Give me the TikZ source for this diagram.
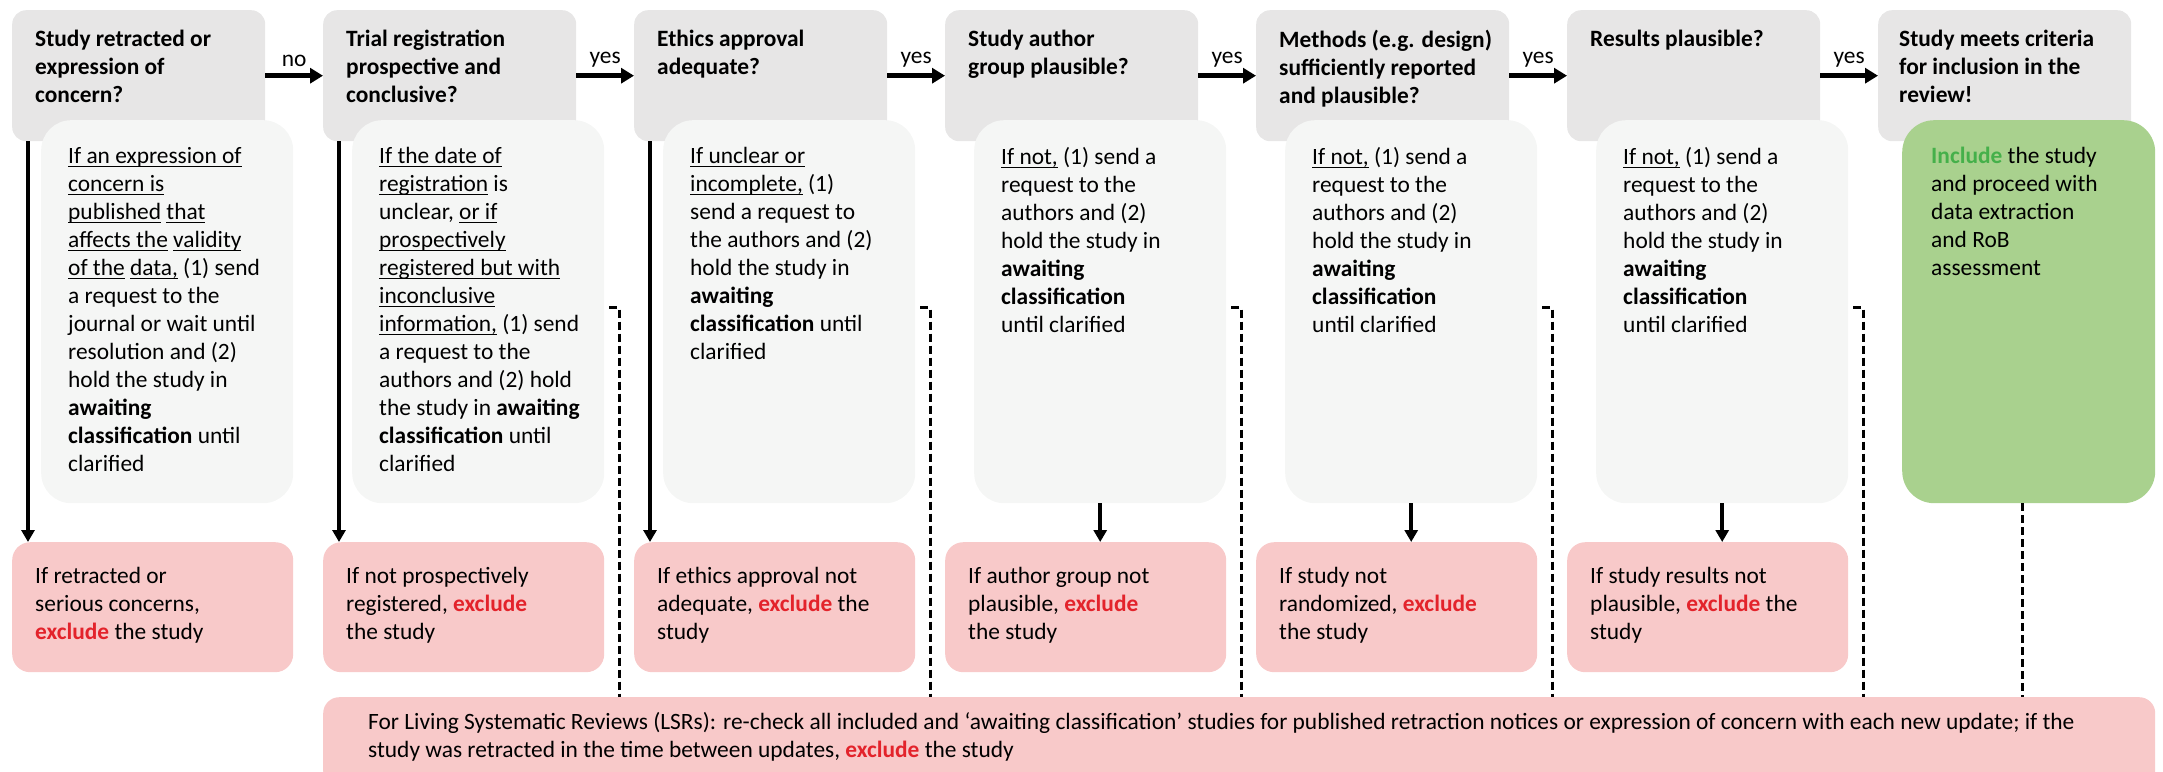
\documentclass[tikz,border=0pt]{standalone}
\usepackage{fontspec}
\setmainfont{Carlito}
\usetikzlibrary{arrows.meta}

\definecolor{headgray}{HTML}{E7E6E6}
\definecolor{notegray}{HTML}{F5F6F5}
\definecolor{expink}{HTML}{F8C9C9}
\definecolor{incgreen}{HTML}{A9D18E}
\definecolor{exred}{HTML}{E3232B}
\definecolor{okgreen}{HTML}{45B04A}
\newcommand{\excl}{\textcolor{exred}{\textbf{exclude}}}
\newsavebox{\ulbox}
\newcommand{\uln}[1]{\sbox{\ulbox}{#1}\rlap{\rule[-4pt]{\wd\ulbox}{1.5pt}}\usebox{\ulbox}}

\tikzset{
    qbox/.style={fill=headgray, rounded corners=14pt, minimum width=253pt, minimum height=131pt, anchor=north west, inner sep=0pt},
    holdbox/.style={fill=notegray, rounded corners=30pt, minimum width=252pt, minimum height=383pt, anchor=north west, inner sep=0pt},
    exbox/.style={fill=expink, rounded corners=18pt, minimum width=281pt, minimum height=130pt, anchor=north west, inner sep=0pt},
    txt/.style={anchor=north west, align=left, inner sep=0pt, font=\fontsize{23.4}{28}\selectfont},
    htxt/.style={anchor=north west, align=left, inner sep=0pt, font=\fontsize{23.4}{28}\selectfont\bfseries},
    nextarrow/.style={-{Triangle[length=13pt,width=15pt]}, line width=4.5pt},
    dropline/.style={-{Triangle[length=12pt,width=13pt]}, line width=4pt},
    lsrline/.style={line width=3.2pt, dash pattern=on 8pt off 4pt},
}

\begin{document}
\begin{tikzpicture}[x=1pt, y=-1pt]
        \useasboundingbox (0,0) rectangle (2163,771);

        % Question boxes
        \node[qbox] (q1) at (12,10) {};
        \node[qbox] (q2) at (323,10) {};
        \node[qbox] (q3) at (634,10) {};
        \node[qbox] (q4) at (945,10) {};
        \node[qbox] (q5) at (1256,10) {};
        \node[qbox] (q6) at (1567,10) {};
        \node[qbox] (q7) at (1878,10) {};

        % Awaiting classification boxes
        \node[holdbox] (h1) at (41,120) {};
        \node[holdbox] (h2) at (352,120) {};
        \node[holdbox] (h3) at (663,120) {};
        \node[holdbox] (h4) at (974,120) {};
        \node[holdbox] (h5) at (1285,120) {};
        \node[holdbox] (h6) at (1596,120) {};
        \node[holdbox, fill=incgreen, rounded corners=32pt, minimum width=253pt] (g7) at (1902,120) {};

        % Exclusion boxes
        \node[exbox] (x1) at (12,542) {};
        \node[exbox] (x2) at (323,542) {};
        \node[exbox] (x3) at (634,542) {};
        \node[exbox] (x4) at (945,542) {};
        \node[exbox] (x5) at (1256,542) {};
        \node[exbox] (x6) at (1567,542) {};
        \node[exbox, minimum width=1832pt, minimum height=90pt, rounded corners=16pt] (lsr) at (323,697) {};

        % Question texts
        \node[htxt] (q1t) at (35,30) {Study retracted or\\expression of\\concern?};
        \node[htxt] (q2t) at (346,30) {Trial registration\\prospective and\\conclusive?};
        \node[htxt] (q3t) at (657,30) {Ethics approval\\adequate?};
        \node[htxt] (q4t) at (968,30) {Study author\\group plausible?};
        \node[htxt] (q5t) at (1279,30) {Methods (e.g. design)\\sufficiently reported\\and plausible?};
        \node[htxt] (q6t) at (1590,30) {Results plausible?};
        \node[htxt] (q7t) at (1899,30) {Study meets criteria\\for inclusion in the\\review!};

        % Awaiting classification texts
        \node[txt] (h1t) at (68,147) {\uln{If an expression of}\\\uln{concern is}\\\uln{published} \uln{that}\\\uln{affects the} \uln{validity}\\\uln{of the} \uln{data,} (1) send\\a request to the\\journal or wait until\\resolution and (2)\\hold the study in\\\textbf{awaiting}\\\textbf{classification} until\\clarified};
        \node[txt] (h2t) at (379,147) {\uln{If the date of}\\\uln{registration} is\\unclear, \uln{or if}\\\uln{prospectively}\\\uln{registered but with}\\\uln{inconclusive}\\\uln{information,} (1) send\\a request to the\\authors and (2) hold\\the study in \textbf{awaiting}\\\textbf{classification} until\\clarified};
        \node[txt] (h3t) at (690,147) {\uln{If unclear or}\\\uln{incomplete,} (1)\\send a request to\\the authors and (2)\\hold the study in\\\textbf{awaiting}\\\textbf{classification} until\\clarified};
        \node[txt] (h4t) at (1001,147) {\uln{If not,} (1) send a\\request to the\\authors and (2)\\hold the study in\\\textbf{awaiting}\\\textbf{classification}\\until clarified};
        \node[txt] (h5t) at (1312,147) {\uln{If not,} (1) send a\\request to the\\authors and (2)\\hold the study in\\\textbf{awaiting}\\\textbf{classification}\\until clarified};
        \node[txt] (h6t) at (1623,147) {\uln{If not,} (1) send a\\request to the\\authors and (2)\\hold the study in\\\textbf{awaiting}\\\textbf{classification}\\until clarified};
        \node[txt] (g7t) at (1931,147) {\textcolor{okgreen}{\textbf{Include}} the study\\and proceed with\\data extraction\\and RoB\\assessment};

        % Exclusion texts
        \node[txt] (x1t) at (35,567) {If retracted or\\serious concerns,\\\excl{} the study};
        \node[txt] (x2t) at (346,567) {If not prospectively\\registered, \excl\\the study};
        \node[txt] (x3t) at (657,567) {If ethics approval not\\adequate, \excl{} the\\study};
        \node[txt] (x4t) at (968,567) {If author group not\\plausible, \excl\\the study};
        \node[txt] (x5t) at (1279,567) {If study not\\randomized, \excl\\the study};
        \node[txt] (x6t) at (1590,567) {If study results not\\plausible, \excl{} the\\study};
        \node[txt] (lsrt) at (368,712) {For Living Systematic Reviews (LSRs): re-check all included and ‘awaiting classification’ studies for published retraction notices or expression of concern with each new update; if the\\study was retracted in the time between updates, \excl{} the study};

        % Flow between questions
        \draw[nextarrow] (q1) -- (q2) node[midway, above=3pt, font=\fontsize{23.4}{28}\selectfont] {no};
        \draw[nextarrow] (q2) -- (q3) node[midway, above=3pt, font=\fontsize{23.4}{28}\selectfont] {yes};
        \draw[nextarrow] (q3) -- (q4) node[midway, above=3pt, font=\fontsize{23.4}{28}\selectfont] {yes};
        \draw[nextarrow] (q4) -- (q5) node[midway, above=3pt, font=\fontsize{23.4}{28}\selectfont] {yes};
        \draw[nextarrow] (q5) -- (q6) node[midway, above=3pt, font=\fontsize{23.4}{28}\selectfont] {yes};
        \draw[nextarrow] (q6) -- (q7) node[midway, above=3pt, font=\fontsize{23.4}{28}\selectfont] {yes};

        % Exclusion arrows
        \draw[dropline] ([xshift=16pt]q1.south west) -- ([xshift=16pt]x1.north west);
        \draw[dropline] ([xshift=16pt]q2.south west) -- ([xshift=16pt]x2.north west);
        \draw[dropline] ([xshift=16pt]q3.south west) -- ([xshift=16pt]x3.north west);
        \draw[dropline] (h4.south) -- (h4.south |- x4.north);
        \draw[dropline] (h5.south) -- (h5.south |- x5.north);
        \draw[dropline] (h6.south) -- (h6.south |- x6.north);

        % Re-check for living reviews
        \draw[lsrline] ([xshift=5pt, yshift=4pt]h2.east) -- ++(10,0) coordinate (d2) -- (d2 |- lsr.north);
        \draw[lsrline] ([xshift=5pt, yshift=4pt]h3.east) -- ++(10,0) coordinate (d3) -- (d3 |- lsr.north);
        \draw[lsrline] ([xshift=5pt, yshift=4pt]h4.east) -- ++(10,0) coordinate (d4) -- (d4 |- lsr.north);
        \draw[lsrline] ([xshift=5pt, yshift=4pt]h5.east) -- ++(10,0) coordinate (d5) -- (d5 |- lsr.north);
        \draw[lsrline] ([xshift=5pt, yshift=4pt]h6.east) -- ++(10,0) coordinate (d6) -- (d6 |- lsr.north);
        \draw[lsrline] ([xshift=-6pt]g7.south) -- ([xshift=-6pt]g7.south |- lsr.north);
    \end{tikzpicture}
\end{document}
